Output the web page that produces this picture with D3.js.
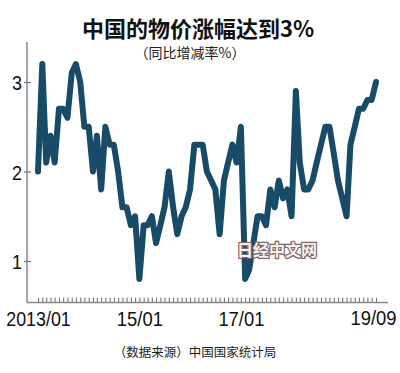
<!DOCTYPE html>
<html>
<head>
<meta charset="utf-8">
<script src="https://cdn.jsdelivr.net/npm/d3@7"></script>
<style>
  body { margin: 0; background: #fff; }
  svg { display: block; }
  .cjk { font-family: "Noto Sans CJK SC", "Noto Sans", sans-serif; }
  .tick text { font-family: "Liberation Sans Narrow", "Liberation Sans", sans-serif; }
</style>
</head>
<body>
<div class="chart"></div>
<script>
// CPI year on year, monthly from 2013/01 to 2019/09
const startMonth = '2013-01';
const cpiValues = [
  2.0, 3.2, 2.1, 2.4, 2.1, 2.7, 2.7, 2.6, 3.1, 3.2, 3.0, 2.5,
  2.5, 2.0, 2.4, 1.8, 2.5, 2.3, 2.3, 2.0, 1.6, 1.6, 1.4, 1.5,
  0.8, 1.4, 1.4, 1.5, 1.2, 1.4, 1.6, 2.0, 1.6, 1.3, 1.5, 1.6,
  1.8, 2.3, 2.3, 2.3, 2.0, 1.9, 1.8, 1.3, 1.9, 2.1, 2.3, 2.1,
  2.5, 0.8, 0.9, 1.2, 1.5, 1.5, 1.4, 1.8, 1.6, 1.9, 1.7, 1.8,
  1.5, 2.9, 2.1, 1.8, 1.8, 1.9, 2.1, 2.3, 2.5, 2.5, 2.2, 1.9,
  1.7, 1.5, 2.3, 2.5, 2.7, 2.7, 2.8, 2.8, 3.0
];
const xTickMonths = ['2013-01', '2015-01', '2017-01', '2019-09'];
const xTickLabels = ['2013/01', '15/01', '17/01', '19/09'];
const yTicks = [1, 2, 3];

const W = 400, H = 373;
const parseMonth = d3.timeParse('%Y-%m');
const start = parseMonth(startMonth);
const data = cpiValues.map((v, i) => ({ date: d3.timeMonth.offset(start, i), value: v }));
const lastDate = data[data.length - 1].date;

//x: first month at 38, last at 376
const x = d3.scaleTime().domain([start, lastDate]).range([38, 376]);
//y: 3 -> 82, 1 -> 261
const y = d3.scaleLinear().domain([1, 3]).range([261, 82]);

const axisX = 27, axisBottom = 302.5, axisTop = 42, axisRight = 388;

const svg = d3.select('.chart').append('svg').attr('width', W).attr('height', H);

// title
svg.append('text').attr('class', 'cjk')
  .attr('x', 198).attr('y', 36.5)
  .attr('text-anchor', 'middle')
  .style('font-size', '22px').style('font-weight', 'bold')
  .attr('fill', '#111')
  .text('中国的物价涨幅达到3%');

svg.append('text').attr('class', 'cjk')
  .attr('x', 190).attr('y', 57.5)
  .attr('text-anchor', 'middle')
  .style('font-size', '14px')
  .attr('fill', '#222')
  .text('（同比增减率%）');

// y axis
const yAxis = d3.axisLeft(y).tickValues(yTicks).tickSize(7).tickFormat(d3.format('d'));
const gy = svg.append('g').attr('transform', `translate(${axisX + 4},0)`).call(yAxis);
gy.select('.domain').remove();
gy.selectAll('.tick line').attr('stroke', '#777').attr('stroke-width', 1.3);
gy.selectAll('.tick text').style('font-size', '21px').attr('fill', '#111')
  .attr('x', -9).attr('dy', '0.36em')
  .attr('textLength', 10).attr('lengthAdjust', 'spacingAndGlyphs');

svg.append('line')
  .attr('x1', axisX).attr('x2', axisX)
  .attr('y1', axisTop).attr('y2', axisBottom)
  .attr('stroke', '#888').attr('stroke-width', 1.5);

// x axis: one small tick per month
const xAxis = d3.axisTop(x).tickValues(data.map(d => d.date)).tickSize(5).tickFormat('');
const gx = svg.append('g').attr('transform', `translate(0,${axisBottom})`).call(xAxis);
gx.select('.domain').remove();
gx.selectAll('.tick line').attr('stroke', '#777').attr('stroke-width', 1.1);

svg.append('line')
  .attr('x1', axisX).attr('x2', axisRight)
  .attr('y1', axisBottom).attr('y2', axisBottom)
  .attr('stroke', '#888').attr('stroke-width', 1.5);

const xLabelAxis = d3.axisBottom(x)
  .tickValues(xTickMonths.map(parseMonth))
  .tickSize(0).tickPadding(9)
  .tickFormat((d, i) => xTickLabels[i]);
const gxl = svg.append('g').attr('transform', `translate(0,${axisBottom})`).call(xLabelAxis);
gxl.select('.domain').remove();
const lastIdx = xTickLabels.length - 1;
gxl.selectAll('.tick text').attr('fill', '#111')
  .style('font-size', (d, i) => i === lastIdx ? '19.5px' : '21px')
  .attr('textLength', (d, i) => xTickLabels[i].length * 9.2)
  .attr('lengthAdjust', 'spacingAndGlyphs')
  .attr('dx', (d, i) => i === lastIdx ? -3 : 0);

// line
const line = d3.line().x(d => x(d.date)).y(d => y(d.value));
svg.append('path')
  .datum(data)
  .attr('d', line)
  .attr('fill', 'none')
  .attr('stroke', '#184b68')
  .attr('stroke-width', 6)
  .attr('stroke-linejoin', 'round')
  .attr('stroke-linecap', 'round');

// watermark
svg.append('text').attr('class', 'cjk')
  .attr('x', 277).attr('y', 256)
  .attr('text-anchor', 'middle')
  .style('font-size', '16px').style('font-weight', 'bold')
  .attr('fill', '#f6f0f0')
  .attr('stroke', '#806868').attr('stroke-width', 2.4)
  .attr('paint-order', 'stroke')
  .text('日经中文网');

// source
svg.append('text').attr('class', 'cjk')
  .attr('x', 195).attr('y', 357)
  .attr('text-anchor', 'middle')
  .style('font-size', '12.5px')
  .attr('fill', '#222')
  .text('（数据来源）中国国家统计局');
</script>
</body>
</html>
